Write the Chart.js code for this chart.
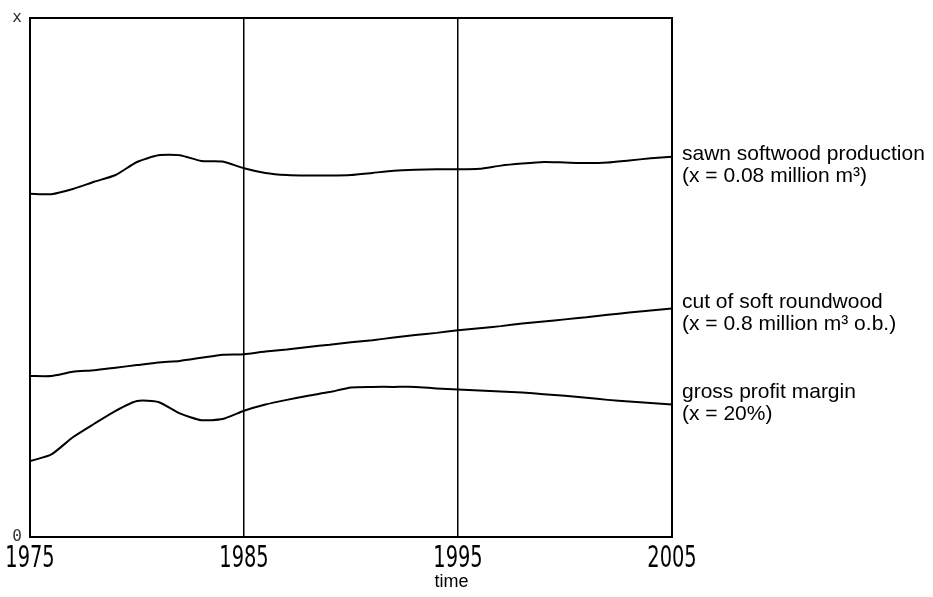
<!DOCTYPE html>
<html>
<head>
<meta charset="utf-8">
<script src="https://cdn.jsdelivr.net/npm/chart.js@4"></script>
<style>
  html, body { margin: 0; padding: 0; background: #fff; }
  #wrap { width: 933px; height: 597px; }
</style>
</head>
<body>
<div id="wrap"><canvas id="chartCanvas" width="933" height="597"></canvas></div>
<script>
// years on the time axis
const years = [1975, 1976, 1977, 1978, 1979, 1980, 1981, 1982, 1983, 1984,
	1985, 1986, 1987, 1988, 1989, 1990, 1991, 1992, 1993, 1994,
	1995, 1996, 1997, 1998, 1999, 2000, 2001, 2002, 2003, 2004, 2005]

// values as fraction of x (0 .. x on the vertical axis)
const sawnSoftwood = [0.661, 0.660, 0.670, 0.684, 0.697, 0.722, 0.735, 0.735, 0.724, 0.723,
	0.710, 0.701, 0.697, 0.696, 0.696, 0.697, 0.701, 0.705, 0.707, 0.708,
	0.708, 0.709, 0.715, 0.719, 0.722, 0.721, 0.720, 0.721, 0.725, 0.729, 0.732]
const softRoundwood = [0.310, 0.310, 0.318, 0.321, 0.326, 0.331, 0.336, 0.339, 0.345, 0.351,
	0.352, 0.357, 0.361, 0.366, 0.370, 0.375, 0.379, 0.384, 0.389, 0.393,
	0.398, 0.402, 0.406, 0.411, 0.415, 0.419, 0.423, 0.428, 0.432, 0.436, 0.440]
const profitMargin = [0.146, 0.159, 0.192, 0.218, 0.243, 0.262, 0.260, 0.238, 0.225, 0.227,
	0.243, 0.255, 0.264, 0.272, 0.279, 0.288, 0.289, 0.289, 0.289, 0.286,
	0.284, 0.282, 0.280, 0.278, 0.275, 0.272, 0.268, 0.264, 0.261, 0.258, 0.255]

const xTicks = [1975, 1985, 1995, 2005]
const yTickLabels = { 0: '0', 1: 'x' }

const seriesLabels = [
	['sawn softwood production', '(x = 0.08 million m\u00b3)'],
	['cut of soft roundwood', '(x = 0.8 million m\u00b3 o.b.)'],
	['gross profit margin', '(x = 20%)']
]

function dataset(values) {
	return {
		data: years.map((y, i) => ({ x: y, y: values[i] })),
		borderColor: '#000',
		borderWidth: 2,
		fill: false,
		pointRadius: 0,
		tension: 0.2
	}
}

// labels at the right end of each curve, the year labels and the axis title "time"
const sideLabels = {
	id: 'sideLabels',
	afterDraw(chart) {
		const ctx = chart.ctx
		const area = chart.chartArea
		const offs = [3, 0, -7]
		ctx.save()
		ctx.fillStyle = '#000'
		ctx.font = '21px "Liberation Sans", Arial, sans-serif'
		ctx.textAlign = 'left'
		ctx.textBaseline = 'alphabetic'
		chart.data.datasets.forEach((ds, i) => {
			const meta = chart.getDatasetMeta(i)
			const last = meta.data[meta.data.length - 1]
			const y = last.y + offs[i]
			ctx.fillText(seriesLabels[i][0], area.right + 10, y)
			ctx.fillText(seriesLabels[i][1], area.right + 10, y + 22)
		})
		ctx.font = '18px "Liberation Sans", Arial, sans-serif'
		ctx.textAlign = 'center'
		ctx.fillText('time', chart.scales.x.getPixelForValue(1994.7), area.bottom + 50)

		// tall narrow year labels
		const xs = chart.scales.x
		ctx.font = '500 30px "DejaVu Sans Condensed", "DejaVu Sans", sans-serif'
		ctx.textBaseline = 'top'
		xs.ticks.forEach(t => {
			const px = xs.getPixelForValue(t.value)
			ctx.save()
			ctx.translate(px, area.bottom + 7)
			ctx.scale(0.72, 1)
			ctx.fillText(String(t.value), 0, 0)
			ctx.restore()
		})
		ctx.restore()
	}
}

window.onload = function() {
	const ctx = document.getElementById('chartCanvas')
	window.myChart = new Chart(ctx, {
		type: 'line',
		data: {
			datasets: [dataset(sawnSoftwood), dataset(softRoundwood), dataset(profitMargin)]
		},
		options: {
			responsive: false,
			animation: false,
			layout: { padding: { top: 13, right: 261, left: 0, bottom: 0 } },
			plugins: { legend: { display: false }, tooltip: { enabled: false } },
			scales: {
				x: {
					type: 'linear',
					min: 1975, max: 2005,
					afterFit: s => { s.height = 60 },
					afterBuildTicks: s => { s.ticks = xTicks.map(v => ({ value: v })) },
					grid: { color: '#000', lineWidth: 1.5, drawTicks: false },
					border: { color: '#000', width: 2 },
					ticks: { display: false }
				},
				xTop: {
					type: 'linear', position: 'top', min: 1975, max: 2005,
					afterFit: s => { s.height = 0 },
					grid: { display: false, drawTicks: false },
					border: { color: '#000', width: 2 },
					ticks: { display: false }
				},
				y: {
					min: 0, max: 1,
					afterFit: s => { s.width = 30 },
					afterBuildTicks: s => { s.ticks = [{ value: 0 }, { value: 1 }] },
					grid: { display: false, drawTicks: false },
					border: { color: '#000', width: 2 },
					ticks: {
						color: '#333', padding: 8,
						font: { family: '"DejaVu Sans Mono", monospace', size: 16 },
						callback: v => yTickLabels[v]
					}
				},
				yRight: {
					position: 'right', min: 0, max: 1,
					afterFit: s => { s.width = 0 },
					grid: { display: false, drawTicks: false },
					border: { color: '#000', width: 2 },
					ticks: { display: false }
				}
			}
		},
		plugins: [sideLabels]
	})
};
</script>
</body>
</html>
